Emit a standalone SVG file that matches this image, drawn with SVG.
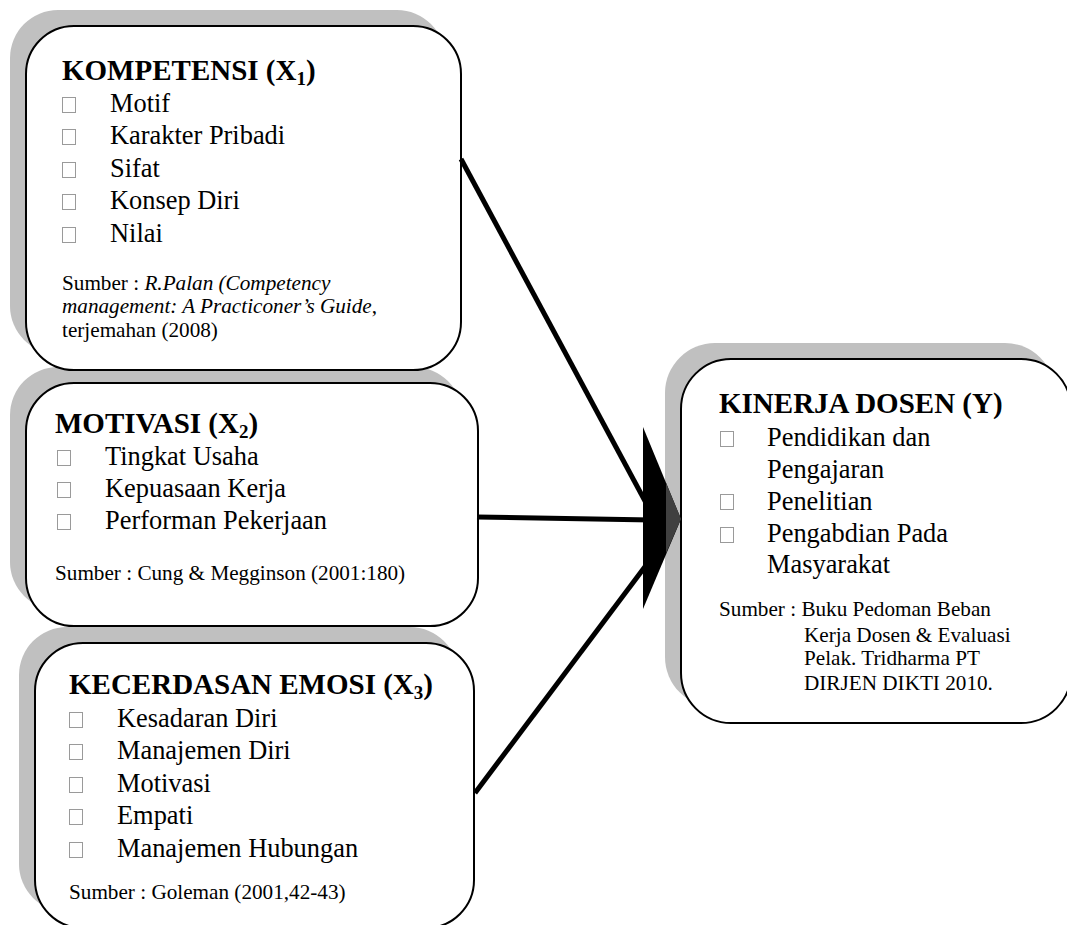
<svg xmlns="http://www.w3.org/2000/svg" width="1067" height="925" viewBox="0 0 1067 925">
<style>
text{font-family:"Liberation Serif","Times New Roman",serif;fill:#000}
.t{font-size:29px;font-weight:bold}
.b{font-size:26.4px}
.s{font-size:21.2px}
.sub{font-size:19px}
.sh{fill:#c0c0c0}
.box{fill:#fff;stroke:#000;stroke-width:2}
.bl{fill:#fff;stroke:#9a9a9a;stroke-width:1}
.ln{stroke:#000;stroke-width:5;fill:none}
</style>
<rect width="1067" height="925" fill="#fff"/>
<g id="shadows">
<rect class="sh" x="10" y="10" width="435" height="344" rx="48"/>
<rect class="sh" x="10" y="367" width="452" height="243" rx="48"/>
<rect class="sh" x="19" y="627" width="439" height="285" rx="48"/>
<rect class="sh" x="665" y="343" width="390" height="364" rx="50"/>
</g>
<g id="kompetensi">
<rect class="box" x="26" y="26" width="435" height="344" rx="48"/>
<text class="t" x="62" y="80">KOMPETENSI (X<tspan class="sub" dy="5">1</tspan><tspan dy="-5">)</tspan></text>
<rect class="bl" x="62.5" y="97.5" width="13" height="15"/>
<rect class="bl" x="62.5" y="129.5" width="13" height="15"/>
<rect class="bl" x="62.5" y="162.5" width="13" height="15"/>
<rect class="bl" x="62.5" y="194.5" width="13" height="15"/>
<rect class="bl" x="62.5" y="227.5" width="13" height="15"/>
<text class="b" x="110" y="112">Motif</text>
<text class="b" x="110" y="144">Karakter Pribadi</text>
<text class="b" x="110" y="177">Sifat</text>
<text class="b" x="110" y="209">Konsep Diri</text>
<text class="b" x="110" y="242">Nilai</text>
<text class="s" x="62" y="290">Sumber : <tspan font-style="italic">R.Palan (Competency</tspan></text>
<text class="s" x="62" y="313"><tspan font-style="italic">management: A Practiconer’s Guide</tspan>,</text>
<text class="s" x="62" y="337">terjemahan (2008)</text>
</g>
<g id="motivasi">
<rect class="box" x="26" y="383" width="452" height="243" rx="48"/>
<text class="t" x="55" y="433">MOTIVASI (X<tspan class="sub" dy="5">2</tspan><tspan dy="-5">)</tspan></text>
<rect class="bl" x="57.5" y="450.5" width="13" height="15"/>
<rect class="bl" x="57.5" y="482.5" width="13" height="15"/>
<rect class="bl" x="57.5" y="514.5" width="13" height="15"/>
<text class="b" x="105" y="465">Tingkat Usaha</text>
<text class="b" x="105" y="497">Kepuasaan Kerja</text>
<text class="b" x="105" y="529">Performan Pekerjaan</text>
<text class="s" x="55" y="580">Sumber : Cung &amp; Megginson (2001:180)</text>
</g>
<g id="kecerdasan">
<rect class="box" x="35" y="643" width="439" height="285" rx="48"/>
<text class="t" x="69" y="694">KECERDASAN EMOSI (X<tspan class="sub" dy="5">3</tspan><tspan dy="-5">)</tspan></text>
<rect class="bl" x="69.5" y="712.5" width="13" height="15"/>
<rect class="bl" x="69.5" y="744.5" width="13" height="15"/>
<rect class="bl" x="69.5" y="777.5" width="13" height="15"/>
<rect class="bl" x="69.5" y="809.5" width="13" height="15"/>
<rect class="bl" x="69.5" y="842.5" width="13" height="15"/>
<text class="b" x="117" y="727">Kesadaran Diri</text>
<text class="b" x="117" y="759">Manajemen Diri</text>
<text class="b" x="117" y="792">Motivasi</text>
<text class="b" x="117" y="824">Empati</text>
<text class="b" x="117" y="857">Manajemen Hubungan</text>
<text class="s" x="69" y="899">Sumber : Goleman (2001,42-43)</text>
</g>
<g id="kinerja">
<rect class="box" x="681" y="359" width="390" height="364" rx="50"/>
<text class="t" x="719" y="413">KINERJA DOSEN (Y)</text>
<rect class="bl" x="720.5" y="431.5" width="13" height="15"/>
<rect class="bl" x="720.5" y="494.5" width="13" height="15"/>
<rect class="bl" x="720.5" y="527.5" width="13" height="15"/>
<text class="b" x="767" y="446">Pendidikan dan</text>
<text class="b" x="767" y="478">Pengajaran</text>
<text class="b" x="767" y="510">Penelitian</text>
<text class="b" x="767" y="542">Pengabdian Pada</text>
<text class="b" x="767" y="573">Masyarakat</text>
<text class="s" x="719" y="616">Sumber : Buku Pedoman Beban</text>
<text class="s" x="804" y="642">Kerja Dosen &amp; Evaluasi</text>
<text class="s" x="804" y="665">Pelak. Tridharma PT</text>
<text class="s" x="804" y="690">DIRJEN DIKTI 2010.</text>
</g>
<g id="connectors">
<line class="ln" x1="461" y1="159" x2="652" y2="514"/>
<line class="ln" x1="477" y1="517" x2="652" y2="520"/>
<line class="ln" x1="475" y1="793" x2="650" y2="560"/>
<polygon points="643,427 681,519 643,609" fill="#000"/>
<polygon points="666,482.7 681,519 666,553.3" fill="#404040"/>
</g>
</svg>
